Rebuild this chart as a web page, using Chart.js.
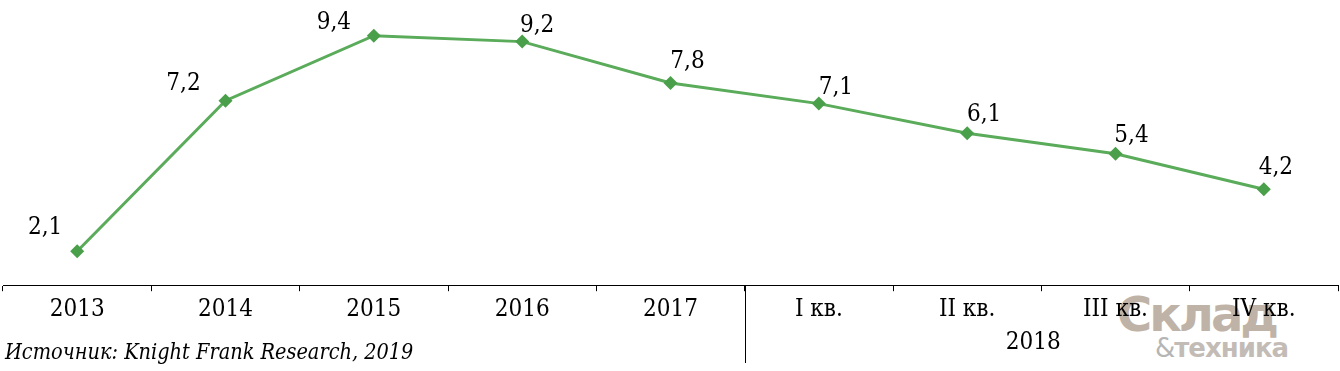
<!DOCTYPE html>
<html>
<head>
<meta charset="utf-8">
<script src="https://cdn.jsdelivr.net/npm/chart.js@4"></script>
<style>
    html, body { margin: 0; padding: 0; background: #fff; }
    #wrap { position: relative; width: 1340px; height: 371px; }
    #chart { position: relative; z-index: 1; }
    .source {
        position: absolute; left: 5px; top: 339px; z-index: 2;
        font: italic 21.5px "DejaVu Serif Condensed", "DejaVu Serif", serif;
        color: #000; white-space: nowrap;
    }
    .logo {
        position: absolute; z-index: 0; font-family: "DejaVu Sans", "Liberation Sans", sans-serif;
        font-weight: bold; white-space: nowrap; line-height: 1;
    }
    .logo1 { left: 1117px; top: 290px; font-size: 48px; color: #bfb3a7; letter-spacing: -3px; }
    .logo2 { left: 1155px; top: 335px; font-size: 26px; color: #c3bcb6; letter-spacing: -1px; }
</style>
</head>
<body>
<div id="wrap">
    <div class="logo logo1">Склад</div>
    <div class="logo logo2"><span style="font-weight:normal;color:#b5b5b5">&amp;</span>техника</div>
    <canvas id="chart" width="1340" height="371"></canvas>
    <div class="source">Источник: Knight Frank Research, 2019</div>
</div>
<script>
const categories = ['2013', '2014', '2015', '2016', '2017', 'I кв.', 'II кв.', 'III кв.', 'IV кв.'];
const values = [2.1, 7.2, 9.4, 9.2, 7.8, 7.1, 6.1, 5.4, 4.2];
const groupLabel = '2018';
const groupStart = 5; // first quarter index

// label offsets relative to each point (layout only)
const labelOffsets = [[-32, -23], [-42, -17], [-40, -13], [15, -16], [17, -21], [17, -16], [17, -18], [16, -18], [12, -21]];

const serif = '"DejaVu Serif Condensed", "DejaVu Serif", serif';

const extrasPlugin = {
    id: 'extras',
    afterDatasetsDraw(chart) {
        const ctx = chart.ctx;
        const x = chart.scales.x;
        const meta = chart.getDatasetMeta(0);
        ctx.save();
        ctx.fillStyle = '#000';
        ctx.font = '24px ' + serif;
        ctx.textAlign = 'center';
        ctx.textBaseline = 'middle';
        meta.data.forEach((pt, i) => {
            const off = labelOffsets[i];
            ctx.fillText(values[i].toFixed(1).replace('.', ','), pt.x + off[0], pt.y + off[1]);
        });

        // separator between years and quarters
        const sepX = Math.round((x.getPixelForValue(groupStart - 1) + x.getPixelForValue(groupStart)) / 2) + 0.5;
        ctx.strokeStyle = '#000';
        ctx.lineWidth = 1;
        ctx.beginPath();
        ctx.moveTo(sepX, chart.chartArea.bottom);
        ctx.lineTo(sepX, 363);
        ctx.stroke();

        // group label under the quarters
        const gx = (x.getPixelForValue(groupStart) + x.getPixelForValue(categories.length - 1)) / 2;
        ctx.fillText(groupLabel, gx - 8, 343);
        ctx.restore();
    }
};

new Chart(document.getElementById('chart'), {
    type: 'line',
    data: {
        labels: categories,
        datasets: [{
            data: values,
            borderColor: '#5aab5a',
            borderWidth: 3,
            pointStyle: 'rectRot',
            pointRadius: 7,
            pointBackgroundColor: '#4a9f4a',
            pointBorderColor: '#4a9f4a',
            pointBorderWidth: 0,
            tension: 0,
            clip: false
        }]
    },
    options: {
        responsive: false,
        animation: false,
        layout: { autoPadding: false, padding: { top: 18, left: 3, right: 2, bottom: 43 } },
        plugins: {
            legend: { display: false },
            tooltip: { enabled: false }
        },
        scales: {
            x: {
                offset: true,
                grid: {
                    offset: true,
                    drawOnChartArea: false,
                    drawTicks: true,
                    tickLength: 6,
                    color: '#000'
                },
                border: { display: true, color: '#000', width: 1 },
                ticks: {
                    color: '#000',
                    padding: 4,
                    font: { family: serif, size: 24 }
                }
            },
            y: {
                display: false,
                min: 0.95,
                max: 10
            }
        }
    },
    plugins: [extrasPlugin]
});
</script>
</body>
</html>
